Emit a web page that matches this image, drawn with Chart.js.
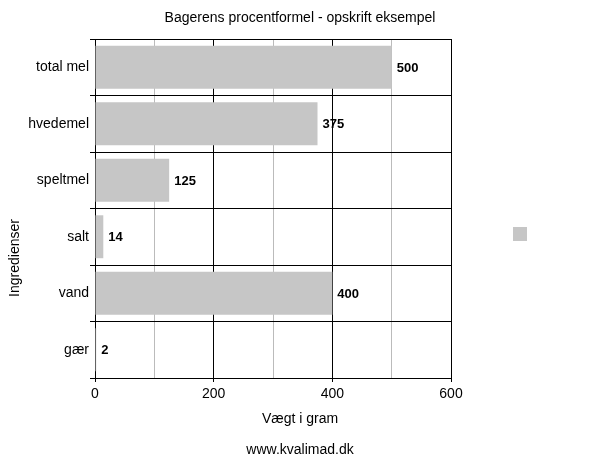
<!DOCTYPE html>
<html>
<head>
<meta charset="utf-8">
<script src="https://cdn.jsdelivr.net/npm/chart.js@4"></script>
<style>
html,body{margin:0;padding:0;background:#fff;}
#wrap{width:600px;height:463px;}
</style>
</head>
<body>
<div id="wrap"><canvas id="c" width="600" height="463"></canvas></div>
<script>
const categories = ['total mel', 'hvedemel', 'speltmel', 'salt', 'vand', 'gær'];
const weights = [500, 375, 125, 14, 400, 2];
const xTicks = [0, 200, 400, 600];
const chartTitle = 'Bagerens procentformel - opskrift eksempel';
const xTitle = 'Vægt i gram';
const yTitle = 'Ingredienser';
const footer = 'www.kvalimad.dk';

const FONT = "'Liberation Sans', Arial, sans-serif";
const BAR = '#c6c6c6';

const valueLabels = {
  id: 'valueLabels',
  afterDatasetsDraw(chart) {
    const ctx = chart.ctx;
    const meta = chart.getDatasetMeta(0);
    ctx.save();
    ctx.font = 'bold 13px ' + FONT;
    ctx.fillStyle = '#000';
    ctx.textAlign = 'left';
    ctx.textBaseline = 'middle';
    meta.data.forEach((el, i) => {
      ctx.fillText(String(weights[i]), el.x + 5, el.y + 1);
    });
    ctx.restore();
  }
};

const axisTitles = {
  id: 'axisTitles',
  afterDraw(chart) {
    const ctx = chart.ctx;
    ctx.save();
    ctx.font = '14px ' + FONT;
    ctx.fillStyle = '#000';
    ctx.textAlign = 'center';
    ctx.textBaseline = 'middle';
    ctx.fillText(xTitle, chart.width / 2, chart.chartArea.bottom + 41);
    ctx.translate(15.5, 258);
    ctx.rotate(-Math.PI / 2);
    ctx.fillText(yTitle, 0, 0);
    ctx.restore();
  }
};

// widen the legend box so the plot area ends where the reference's does
const legendWidth = {
  id: 'legendWidth',
  beforeLayout(chart) {
    const lg = chart.legend;
    if (lg && !lg._patched) {
      const orig = lg.fit;
      lg.fit = function () { orig.call(this); this.width = 149; };
      lg._patched = true;
    }
  }
};

new Chart(document.getElementById('c'), {
  type: 'bar',
  data: {
    labels: categories,
    datasets: [{
      label: '',
      data: weights,
      backgroundColor: BAR,
      borderWidth: 0,
      categoryPercentage: 1,
      barPercentage: 0.76
    }]
  },
  options: {
    indexAxis: 'y',
    responsive: false,
    animation: false,
    devicePixelRatio: 1,
    layout: { padding: { top: 5, right: 0, left: 0, bottom: 0 } },
    plugins: {
      title: {
        display: true,
        text: chartTitle,
        color: '#000',
        font: { family: FONT, size: 14, weight: 'normal' },
        padding: { top: 5, bottom: 12.2 }
      },
      subtitle: {
        display: true,
        position: 'bottom',
        text: footer,
        color: '#000',
        font: { family: FONT, size: 14, weight: 'normal' },
        padding: { top: 0, bottom: 4 }
      },
      legend: {
        display: true,
        position: 'right',
        labels: {
          boxWidth: 14,
          boxHeight: 14,
          padding: 62,
          color: '#000',
          font: { family: FONT, size: 14 }
        }
      },
      tooltip: { enabled: false }
    },
    scales: {
      x: {
        min: 0,
        max: 600,
        afterFit(s) { s.height = 64.2; },
        afterBuildTicks(s) {
          s.ticks = [0, 100, 200, 300, 400, 500, 600].map(v => ({ value: v }));
        },
        ticks: {
          color: '#000',
          font: { family: FONT, size: 14 },
          padding: 4,
          maxRotation: 0,
          callback: v => (xTicks.includes(v) ? String(v) : '')
        },
        grid: {
          color: c => (c.tick && xTicks.includes(c.tick.value) ? '#000' : '#bbbbbb'),
          tickColor: c => (c.tick && xTicks.includes(c.tick.value) ? '#000' : 'rgba(0,0,0,0)'),
          tickLength: 4,
          lineWidth: 1
        },
        border: { color: '#000', width: 1 }
      },
      y: {
        afterFit(s) { s.width = 95; },
        ticks: {
          color: '#000',
          font: { family: FONT, size: 14 },
          padding: 1
        },
        grid: {
          color: '#000',
          tickColor: '#000',
          tickLength: 5,
          offset: true,
          lineWidth: 1
        },
        border: { color: '#000', width: 1 }
      }
    }
  },
  plugins: [legendWidth, valueLabels, axisTitles]
});
</script>
</body>
</html>
